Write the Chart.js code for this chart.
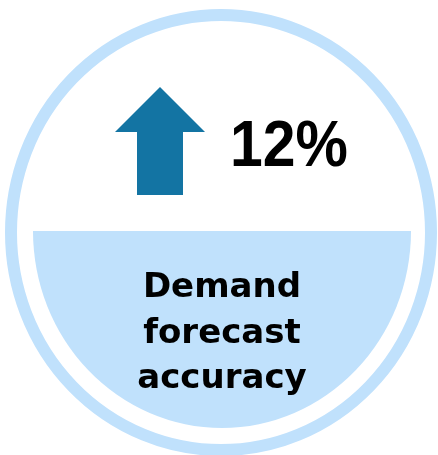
<!DOCTYPE html>
<html>
<head>
<meta charset="utf-8">
<script src="https://cdn.jsdelivr.net/npm/chart.js@4.4.0/dist/chart.umd.min.js"></script>
<style>
  html, body { margin: 0; padding: 0; background: #fff; }
  #wrap { width: 438px; height: 455px; }
</style>
</head>
<body>
<div id="wrap"><canvas id="kpiChart"></canvas></div>
<script>
// KPI badge data
const metricLines = ['Demand', 'forecast', 'accuracy'];
const changeValues = [12];
const changeUnits = ['%'];
const changeDirections = ['up'];

const ringColor = '#c0e1fc';
const arrowColor = '#1374a3';

// draws the badge through the (hidden) x/y scales
const kpiBadge = {
    id: 'kpiBadge',
    afterDatasetsDraw(chart) {
        const ctx = chart.ctx;
        const sx = chart.scales.x;
        const sy = chart.scales.y;
        const px = (v) => sx.getPixelForValue(v);
        const py = (v) => sy.getPixelForValue(v);
        const w = (v) => px(v) - px(0);
        const h = (v) => py(v) - py(0);

        ctx.save();

        // outer ring
        ctx.beginPath();
        ctx.ellipse(px(221), py(232.5), w(210), h(217.5), 0, 0, Math.PI * 2);
        ctx.lineWidth = 12;
        ctx.strokeStyle = ringColor;
        ctx.stroke();

        // lower half fill
        ctx.beginPath();
        ctx.ellipse(px(222), py(231), w(189), h(197), 0, 0, Math.PI);
        ctx.closePath();
        ctx.fillStyle = ringColor;
        ctx.fill();

        // arrow
        const up = changeDirections[0] === 'up';
        const pts = up
            ? [[160, 87], [205, 132], [183, 132], [183, 195], [137, 195], [137, 132], [115, 132]]
            : [[160, 195], [205, 150], [183, 150], [183, 87], [137, 87], [137, 150], [115, 150]];
        ctx.beginPath();
        pts.forEach((p, i) => {
            if (i === 0) ctx.moveTo(px(p[0]), py(p[1]));
            else ctx.lineTo(px(p[0]), py(p[1]));
        });
        ctx.closePath();
        ctx.fillStyle = arrowColor;
        ctx.fill();

        // value text
        ctx.fillStyle = '#000';
        ctx.textBaseline = 'alphabetic';
        ctx.textAlign = 'left';
        ctx.font = 'bold 64px "Liberation Sans", Arial, sans-serif';
        const valueText = changeValues[0] + changeUnits[0];
        ctx.save();
        ctx.translate(px(230), py(166));
        ctx.scale(0.92, 1);
        ctx.fillText(valueText, 0, 0);
        ctx.restore();

        // metric label
        ctx.textAlign = 'center';
        ctx.font = 'bold 34px "DejaVu Sans", sans-serif';
        metricLines.forEach((line, i) => {
            ctx.fillText(line, px(222), py(297 + i * 45.5));
        });

        ctx.restore();
    }
};

new Chart(document.getElementById('kpiChart'), {
    type: 'scatter',
    data: {
        datasets: [{ data: [], pointRadius: 0 }]
    },
    options: {
        responsive: true,
        maintainAspectRatio: false,
        animation: false,
        events: [],
        layout: { padding: 0 },
        scales: {
            x: { type: 'linear', min: 0, max: 438, display: false },
            y: { type: 'linear', min: 0, max: 455, reverse: true, display: false }
        },
        plugins: {
            legend: { display: false },
            tooltip: { enabled: false }
        }
    },
    plugins: [kpiBadge]
});
</script>
</body>
</html>
